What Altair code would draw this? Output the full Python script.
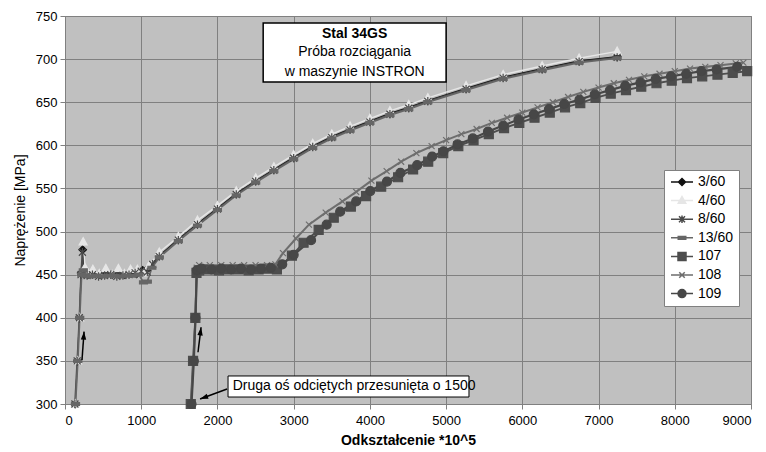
import altair as alt
import pandas as pd

# ---------------- data ----------------
names = ["3/60", "4/60", "8/60", "13/60", "107", "108", "109"]

s360_x = [135, 165, 190, 212, 232, 250, 300, 380, 460, 540, 620, 700, 780, 860, 940, 1020, 1100,
          1237, 1487, 1738, 2000, 2247, 2502, 2740, 3000, 3250, 3500, 3740, 4000, 4263, 4510, 4760,
          5262, 5748, 6260, 6745, 7244]
s360_y = [300, 350, 400, 452, 479, 452, 450, 452, 450, 451, 450, 451, 450, 452, 451, 455, 458,
          472, 491, 509, 527, 544, 559, 572, 586, 599, 610, 619, 628, 637, 644, 652,
          666, 679, 689, 698, 703]

s460_x = [135, 165, 192, 215, 238, 262, 300, 366, 450, 535, 620, 700, 780, 860, 950, 1030, 1100,
          1237, 1487, 1738, 2000, 2247, 2502, 2740, 3000, 3250, 3500, 3740, 4000, 4263, 4510, 4760,
          5262, 5748, 6260, 6745, 7244]
s460_y = [300, 350, 400, 452, 488, 458, 452, 456, 451, 457, 450, 457, 451, 456, 456, 452, 460,
          476, 494, 513, 530, 547, 562, 575, 589, 602, 613, 622, 631, 640, 647, 655,
          669, 682, 692, 701, 709]

s860_x = [130, 160, 188, 210, 228, 245, 290, 360, 440, 520, 600, 680, 760, 840, 920, 1000, 1080, 1150,
          1237, 1487, 1738, 2000, 2247, 2502, 2740, 3000, 3250, 3500, 3740, 4000, 4263, 4510, 4760,
          5262, 5748, 6260, 6745, 7244]
s860_y = [300, 350, 400, 450, 476, 451, 449, 450, 448, 449, 450, 448, 449, 450, 452, 454, 453, 462,
          471, 490, 508, 526, 543, 558, 571, 585, 598, 609, 618, 627, 636, 643, 651,
          665, 678, 688, 697, 702]

s1360_x = [138, 168, 193, 218, 240, 270, 330, 410, 490, 570, 650, 730, 810, 890, 970, 1030, 1080, 1140,
           1237, 1487, 1738, 2000, 2247, 2502, 2740, 3000, 3250, 3500, 3740, 4000, 4263, 4510, 4760,
           5262, 5748, 6260, 6745, 7244]
s1360_y = [300, 350, 400, 450, 455, 449, 448, 449, 448, 449, 449, 448, 449, 449, 450, 441, 442, 458,
           470, 489, 507, 525, 542, 557, 570, 584, 597, 608, 617, 626, 635, 642, 650,
           664, 677, 687, 696, 701]

s107_x = [1650, 1680, 1710, 1725, 1760, 1890, 2020, 2150, 2280, 2410, 2540, 2660, 2780, 2977, 3130,
          3328, 3526, 3750, 3950, 4148, 4370, 4567, 4765, 4962, 5160, 5360, 5560, 5760, 5960, 6160,
          6360, 6560, 6760, 6960, 7160, 7360, 7560, 7760, 7960, 8160, 8360, 8560, 8760, 8950]
s107_y = [300, 350, 400, 452, 455, 456, 455, 456, 456, 455, 456, 457, 456, 472, 487,
          502, 516, 529, 541, 552, 563, 572, 581, 591, 599, 606, 613, 620, 626, 632,
          638, 644, 649, 655, 660, 664, 668, 672, 675, 678, 680, 682, 684, 686]

s108_x = [1655, 1685, 1712, 1728, 1760, 1900, 2050, 2200, 2350, 2500, 2650, 2760, 2860, 3030, 3200,
          3420, 3640, 3820, 4020, 4220, 4410, 4610, 4810, 5000, 5200, 5400, 5600, 5800, 6000, 6200,
          6400, 6600, 6800, 7000, 7200, 7400, 7600, 7800, 8000, 8200, 8400, 8600, 8800, 8900]
s108_y = [300, 350, 400, 458, 461, 461, 461, 461, 461, 461, 461, 462, 475, 492, 508,
          522, 535, 546, 559, 570, 581, 591, 599, 606, 613, 619, 626, 632, 638, 644,
          650, 656, 662, 667, 672, 676, 680, 683, 686, 689, 691, 693, 695, 696]

s109_x = [1660, 1690, 1712, 1730, 1790, 1920, 2050, 2180, 2310, 2440, 2570, 2700, 2850, 3000, 3228,
          3433, 3610, 3820, 4005, 4224, 4400, 4620, 4817, 4965, 5150, 5350, 5550, 5750, 5950, 6150,
          6350, 6550, 6750, 6950, 7150, 7350, 7550, 7750, 7950, 8150, 8350, 8550, 8820]
s109_y = [300, 350, 400, 455, 457, 456, 457, 456, 457, 456, 457, 458, 462, 473, 490,
          508, 523, 535, 547, 558, 568, 577, 587, 593, 601, 608, 616, 623, 630, 636,
          642, 648, 653, 659, 664, 669, 673, 677, 680, 683, 686, 688, 691]

x_ticks = [0, 1000, 2000, 3000, 4000, 5000, 6000, 7000, 8000, 9000]
y_ticks = [300, 350, 400, 450, 500, 550, 600, 650, 700, 750]

title_lines = ["Stal 34GS", "Próba rozciągania", "w maszynie INSTRON"]
title_weights = ["bold", "normal", "normal"]
title_line_y = [729.7, 707.7, 685.4]
title_x = [3800]
title_box_x = [2600, 5000]
title_box_y = [742, 673.4]

note_text = ["Druga oś odciętych przesunięta o 1500"]
note_box_x = [2139, 5300]
note_box_y = [332.5, 308.1]
note_text_x = [2200]
note_text_y = [320.5]

arrow_tail_x = [223, 1745, 2126]
arrow_tail_y = [351, 360, 317.4]
arrow_tip_x = [250, 1785, 1772]
arrow_tip_y = [384, 389, 305.8]
arrow_angle = [4, 7, 250]

# ---------------- styles ----------------
colors = ["#111111", "#e6e6e6", "#4a4a4a", "#666666", "#4d4d4d", "#6e6e6e", "#474747"]
line_widths = [1.3, 2.2, 1.3, 1.5, 2.0, 1.2, 2.0]
marker_paths = [
    "M0,-0.75L0.75,0L0,0.75L-0.75,0Z",                                   # diamond
    "M0,-0.85L0.8,0.6L-0.8,0.6Z",                                        # triangle
    "M-0.7,-0.7L0.7,0.7M-0.7,0.7L0.7,-0.7M0,-0.85V0.85",                 # asterisk
    "M-0.8,-0.3H0.8V0.3H-0.8Z",                                          # dash
    "M-0.9,-0.9H0.9V0.9H-0.9Z",                                          # square
    "M-0.6,-0.6L0.6,0.6M-0.6,0.6L0.6,-0.6",                              # x
    "M-0.9,0A0.9,0.9,0,1,1,0.9,0A0.9,0.9,0,1,1,-0.9,0Z",                 # circle
]
legend_marker_paths = [
    "M0,-0.7L0.7,0L0,0.7L-0.7,0Z",
    "M0,-0.8L0.75,0.55L-0.75,0.55Z",
    "M-0.6,-0.6L0.6,0.6M-0.6,0.6L0.6,-0.6M0,-0.75V0.75",
    "M-0.75,-0.28H0.75V0.28H-0.75Z",
    "M-0.8,-0.8H0.8V0.8H-0.8Z",
    "M-0.55,-0.55L0.55,0.55M-0.55,0.55L0.55,-0.55",
    "M-0.8,0A0.8,0.8,0,1,1,0.8,0A0.8,0.8,0,1,1,-0.8,0Z",
]
legend_paths = ["M-2.2,0H2.2" + p for p in legend_marker_paths]
FONT = "Liberation Sans"

series_x = [s360_x, s460_x, s860_x, s1360_x, s107_x, s108_x, s109_x]
series_y = [s360_y, s460_y, s860_y, s1360_y, s107_y, s108_y, s109_y]

rows = []
for name, xs, ys in zip(names, series_x, series_y):
    for i, (a, b) in enumerate(zip(xs, ys)):
        rows.append({"sym": name, "series": name, "x": a, "y": b, "i": i})
df = pd.DataFrame(rows)

title_df = pd.DataFrame({"t": title_lines, "w": title_weights, "y": title_line_y,
                         "x": title_x * len(title_lines)})
tbox_df = pd.DataFrame({"x": [title_box_x[0]], "x2": [title_box_x[1]],
                        "y": [title_box_y[0]], "y2": [title_box_y[1]]})
nbox_df = pd.DataFrame({"x": [note_box_x[0]], "x2": [note_box_x[1]],
                        "y": [note_box_y[0]], "y2": [note_box_y[1]]})
ntext_df = pd.DataFrame({"t": note_text, "x": note_text_x, "y": note_text_y})
arrow_df = pd.DataFrame({"x": arrow_tail_x, "y": arrow_tail_y,
                         "x2": arrow_tip_x, "y2": arrow_tip_y, "ang": arrow_angle})

xscale = alt.Scale(domain=[0, 9000], nice=False, zero=False)
yscale = alt.Scale(domain=[300, 750], nice=False, zero=False)
xaxis = alt.Axis(values=x_ticks, format="d", title="Odkształcenie *10^5", grid=True,
                 titleFontWeight="bold", labelPadding=5, titlePadding=6)
yaxis = alt.Axis(values=y_ticks, format="d", title="Naprężenie [MPa]", grid=True,
                 titleFontWeight="normal", labelPadding=3, titlePadding=8)


def X(field="x"):
    return alt.X(f"{field}:Q", scale=xscale, axis=xaxis)


def Y(field="y"):
    return alt.Y(f"{field}:Q", scale=yscale, axis=yaxis)


cscale = alt.Scale(domain=names, range=colors)

lines = alt.Chart(df).mark_line(clip=False).encode(
    x=X(), y=Y(),
    color=alt.Color("sym:N", scale=cscale, legend=None),
    strokeWidth=alt.StrokeWidth("sym:N", scale=alt.Scale(domain=names, range=line_widths), legend=None),
    order=alt.Order("i:Q"),
    detail="sym:N",
)

points = alt.Chart(df).mark_point(filled=False, size=100, strokeWidth=1.2, opacity=1, clip=False).encode(
    x=X(), y=Y(),
    color=alt.Color("sym:N", scale=cscale, legend=None),
    fill=alt.Fill("sym:N", scale=cscale, legend=None),
    shape=alt.Shape("sym:N", scale=alt.Scale(domain=names, range=marker_paths), legend=None),
)

leg = alt.Legend(orient="none", legendX=599, legendY=154, title=None, fillColor="white",
                 strokeColor="#808080", padding=5, symbolSize=100, symbolStrokeWidth=1.5,
                 symbolOffset=6, labelOffset=9, labelFont=FONT, labelFontSize=14,
                 labelColor="black", rowPadding=4.6, values=names)

legend_layer = alt.Chart(df).transform_filter("false").mark_point(
    filled=False, size=100, strokeWidth=1.5, opacity=1).encode(
    x=X(), y=Y(),
    color=alt.Color("series:N", scale=cscale, legend=leg, sort=names),
    fill=alt.Fill("series:N", scale=cscale, legend=leg, sort=names),
    shape=alt.Shape("series:N", scale=alt.Scale(domain=names, range=legend_paths), legend=leg, sort=names),
)

tbox = alt.Chart(tbox_df).mark_rect(fill="white", stroke="black", strokeWidth=1.5).encode(
    x=X(), x2="x2:Q", y=Y(), y2="y2:Q")
ttext_b = alt.Chart(title_df).transform_filter("datum.w == 'bold'").mark_text(
    font=FONT, fontSize=14, fontWeight="bold", color="black", baseline="middle").encode(
    x=X(), y=Y(), text="t:N")
ttext_n = alt.Chart(title_df).transform_filter("datum.w == 'normal'").mark_text(
    font=FONT, fontSize=14, fontWeight="normal", color="black", baseline="middle").encode(
    x=X(), y=Y(), text="t:N")

nbox = alt.Chart(nbox_df).mark_rect(fill="white", stroke="black", strokeWidth=1).encode(
    x=X(), x2="x2:Q", y=Y(), y2="y2:Q")
ntext = alt.Chart(ntext_df).mark_text(font=FONT, fontSize=14, color="black", align="left",
                                      baseline="middle").encode(x=X(), y=Y(), text="t:N")

shafts = alt.Chart(arrow_df).mark_rule(color="black", strokeWidth=1.5).encode(
    x=X(), y=Y(), x2="x2:Q", y2="y2:Q")
heads = alt.Chart(arrow_df).mark_point(shape="M0,0L0.6,1.8L-0.6,1.8Z", filled=True, size=81,
                                       color="black", opacity=1).encode(
    x=X("x2"), y=Y("y2"), angle=alt.Angle("ang:Q", scale=None))

chart = alt.layer(lines, points, tbox, ttext_b, ttext_n, nbox, ntext, shafts, heads, legend_layer).resolve_scale(
    color="independent", fill="independent", shape="independent", strokeWidth="independent"
).properties(
    width=686, height=388,
    autosize=alt.AutoSizeParams(type="none"),
    padding={"left": 65, "top": 16, "right": 15, "bottom": 48},
    background="white",
).configure_view(
    fill="#c0c0c0", stroke="#808080", strokeWidth=1
).configure_axis(
    gridColor="#808080", gridWidth=1, gridOpacity=1,
    domainColor="#808080", tickColor="#808080", tickSize=5,
    labelFont=FONT, labelFontSize=13, labelColor="black",
    titleFont=FONT, titleFontSize=14, titleColor="black",
)

chart.save("out.html", embed_options={"renderer": "svg", "actions": False})
